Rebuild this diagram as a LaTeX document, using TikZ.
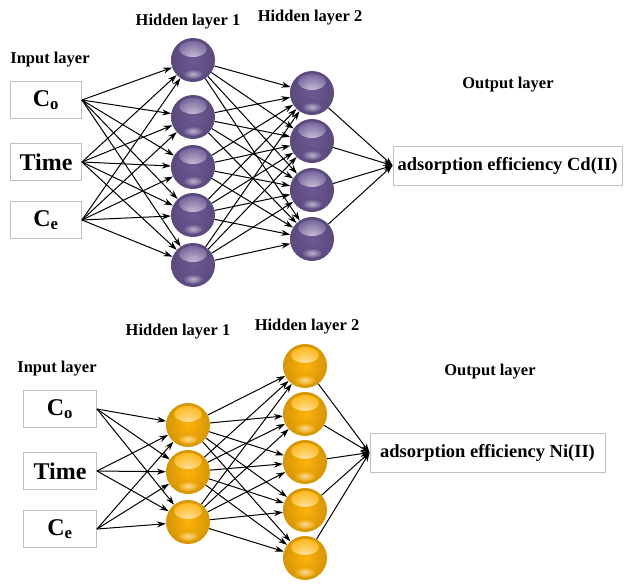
\documentclass[tikz,border=0pt]{standalone}
\usepackage{fontspec}
\setmainfont{Liberation Serif}
\usetikzlibrary{arrows.meta}
\definecolor{P}{RGB}{108,88,148}
\definecolor{O}{RGB}{254,178,8}
\def\Wpic{624}
\def\Hpic{587}

\begin{document}
\begin{tikzpicture}[x=1pt,y=-1pt,
    inbox/.style={draw=gray!50,line width=0.9pt,minimum width=71pt,minimum height=37pt,inner sep=0pt,font=\fontsize{24}{26}\selectfont\bfseries},
    outbox/.style={draw=gray!50,line width=0.9pt,minimum height=39pt,inner sep=0pt,font=\fontsize{18.5}{20}\selectfont\bfseries},
    layer/.style={font=\fontsize{16.5}{18}\selectfont\bfseries},
    neuron/.style={circle,inner sep=0pt,minimum size=44pt,shading=radial,inner color=#1,outer color=#1!84!black,
        path picture={
            \shade[inner color=white!70!#1,outer color=#1] ([yshift=11pt]path picture bounding box.center) ellipse (14pt and 8pt);
            \shade[inner color=white!55!#1,outer color=#1!92!black] ([yshift=-14pt]path picture bounding box.center) ellipse (10pt and 5pt);}},
    link/.style={-{Stealth[length=9pt,width=6pt]},line width=1pt}]
    \path[use as bounding box] (0,0) rectangle (\Wpic,\Hpic);
    % Cd(II) network
    \node[layer] (cdLin) at (50,60) {Input layer};
    \node[layer] (cdLh1) at (188,22) {Hidden layer 1};
    \node[layer] (cdLh2) at (310,18) {Hidden layer 2};
    \node[layer] (cdLout) at (508,85) {Output layer};
    \foreach \i/\y/\t in {1/100/C\textsubscript{o},2/162/Time,3/220/C\textsubscript{e}}
        \node[inbox] (cdI\i) at (46,\y) {\t};
    \foreach \i/\y in {1/60,2/117,3/167,4/215,5/265}
        \node[neuron=P] (cdA\i) at (193,\y) {};
    \foreach \i/\y in {1/93,2/141,3/190,4/239}
        \node[neuron=P] (cdB\i) at (312,\y) {};
    \node[outbox,minimum width=229pt] (cdOut) at (507.5,165.5) {adsorption efficiency Cd(II)};
    \foreach \a in {1,...,3} {\foreach \b in {1,...,5} {\draw[link] (cdI\a.east)--(cdA\b);}}
    \foreach \a in {1,...,5} {\foreach \b in {1,...,4} {\draw[link] (cdA\a)--(cdB\b);}}
    \foreach \b in {1,...,4} {\draw[link] (cdB\b)--(cdOut.west);}
    % Ni(II) network
    \node[layer] (niLin) at (57,369) {Input layer};
    \node[layer] (niLh1) at (178,332) {Hidden layer 1};
    \node[layer] (niLh2) at (307,327) {Hidden layer 2};
    \node[layer] (niLout) at (490,372) {Output layer};
    \foreach \i/\y/\t in {1/409/C\textsubscript{o},2/471/Time,3/529/C\textsubscript{e}}
        \node[inbox,minimum width=73pt] (niI\i) at (60,\y) {\t};
    \foreach \i/\y in {1/425,2/472,3/522}
        \node[neuron=O] (niA\i) at (188,\y) {};
    \foreach \i/\y in {1/366,2/414,3/462,4/510,5/558}
        \node[neuron=O] (niB\i) at (305,\y) {};
    \node[outbox,minimum width=235pt] (niOut) at (487.5,452.5) {adsorption efficiency Ni(II)};
    \foreach \a in {1,...,3} {\foreach \b in {1,...,3} {\draw[link] (niI\a.east)--(niA\b);}}
    \foreach \a in {1,...,3} {\foreach \b in {1,...,5} {\draw[link] (niA\a)--(niB\b);}}
    \foreach \b in {1,...,5} {\draw[link] (niB\b)--(niOut.west);}
\end{tikzpicture}
\end{document}
